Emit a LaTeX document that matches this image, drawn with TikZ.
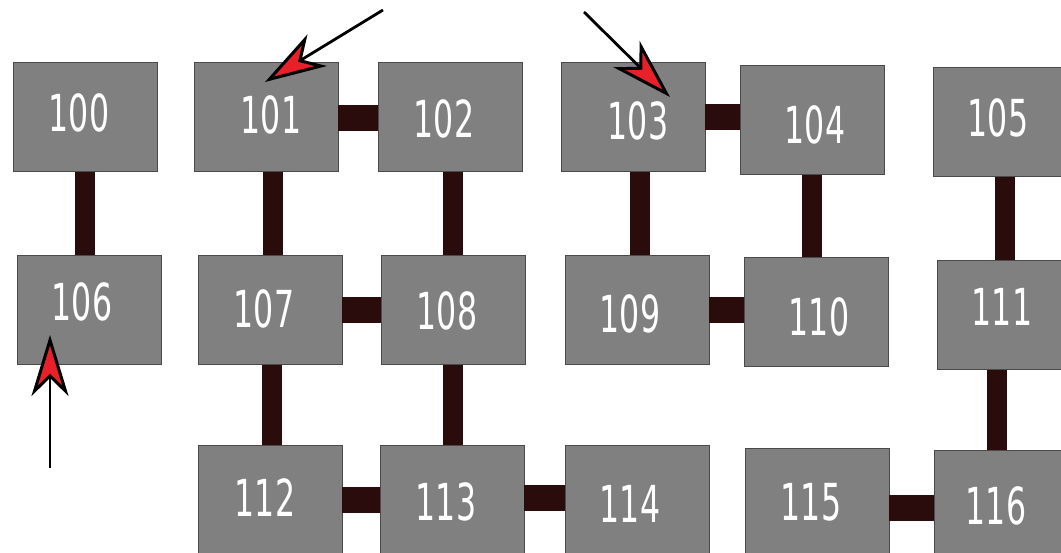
\documentclass[tikz,border=0pt]{standalone}
\usepackage{fontspec}
\newfontfamily\boxfont{DejaVu Sans}[FakeStretch=0.62]
\usetikzlibrary{arrows.meta}
\definecolor{boxgray}{HTML}{808080}
\definecolor{boxedge}{HTML}{4A4A4A}
\definecolor{linkbrown}{HTML}{2B0C0C}
\definecolor{tipred}{HTML}{E8202A}
\begin{document}
\begin{tikzpicture}[x=1pt,y=-1pt,
  cell/.style={draw=boxedge, line width=0.8pt, fill=boxgray,
    minimum width=144pt, minimum height=109pt, inner sep=0pt},
  tag/.style={inner sep=0pt, text=white,
    font=\boxfont\fontsize{51}{51}\selectfont},
  vlink/.style={draw=linkbrown, line width=20pt},
  hlink/.style={draw=linkbrown, line width=26pt},
  pointer/.style={draw=black, line width=2.8pt,
    -{Stealth[length=61pt,width=37pt,inset=18pt,fill=tipred,line width=3pt]}}]
\useasboundingbox (0,0) rectangle (1061,553);
\clip (0,0) rectangle (1061,553);

% grid of cells
\node[cell] (n100) at (85,117)   {};
\node[cell] (n101) at (266,117)  {};
\node[cell] (n102) at (450,117)  {};
\node[cell] (n103) at (633,117)  {};
\node[cell] (n104) at (812,120)  {};
\node[cell] (n105) at (1005,122) {};
\node[cell] (n106) at (89,310)   {};
\node[cell] (n107) at (270,310)  {};
\node[cell] (n108) at (453,310)  {};
\node[cell] (n109) at (637,310)  {};
\node[cell] (n110) at (816,312)  {};
\node[cell] (n111) at (1009,315) {};
\node[cell] (n112) at (270,500)  {};
\node[cell] (n113) at (452,500)  {};
\node[cell] (n114) at (637,500)  {};
\node[cell] (n115) at (817,503)  {};
\node[cell] (n116) at (1006,505) {};

% cell numbers
\node[tag] (l100) at ([shift={(-6,-4)}]n100.center) {100};
\node[tag] (l101) at ([shift={(5,-2)}]n101.center)  {101};
\node[tag] (l102) at ([shift={(-6,2)}]n102.center)  {102};
\node[tag] (l103) at ([shift={(5,4)}]n103.center)   {103};
\node[tag] (l104) at ([shift={(3,5)}]n104.center)   {104};
\node[tag] (l105) at ([shift={(-7,-4)}]n105.center) {105};
\node[tag] (l106) at ([shift={(-7,-8)}]n106.center) {106};
\node[tag] (l107) at ([shift={(-6,-1)}]n107.center) {107};
\node[tag] (l108) at ([shift={(-6,1)}]n108.center)  {108};
\node[tag] (l109) at ([shift={(-7,4)}]n109.center)  {109};
\node[tag] (l110) at ([shift={(3,5)}]n110.center)   {110};
\node[tag] (l111) at ([shift={(-7,-8)}]n111.center) {111};
\node[tag] (l112) at ([shift={(-5,-2)}]n112.center) {112};
\node[tag] (l113) at ([shift={(-6,2)}]n113.center)  {113};
\node[tag] (l114) at ([shift={(-7,4)}]n114.center)  {114};
\node[tag] (l115) at ([shift={(-6,-1)}]n115.center) {115};
\node[tag] (l116) at ([shift={(-10,1)}]n116.center) {116};

% vertical links
\draw[vlink] (n100.south) -- (n100.south |- n106.north);
\draw[vlink] ([xshift=7pt]n101.south) -- ([xshift=7pt]n101.south |- n107.north);
\draw[vlink] ([xshift=3pt]n102.south) -- ([xshift=3pt]n102.south |- n108.north);
\draw[vlink] ([xshift=7pt]n103.south) -- ([xshift=7pt]n103.south |- n109.north);
\draw[vlink] (n104.south) -- (n104.south |- n110.north);
\draw[vlink] (n105.south) -- (n105.south |- n111.north);
\draw[vlink] ([xshift=2pt]n107.south) -- ([xshift=2pt]n107.south |- n112.north);
\draw[vlink] (n108.south) -- (n108.south |- n113.north);
\draw[vlink] ([xshift=-12pt]n111.south) -- ([xshift=-12pt]n111.south |- n116.north);

% horizontal links
\draw[hlink] ([yshift=-1pt]n101.east) -- ([yshift=-1pt]n101.east -| n102.west);
\draw[hlink] (n103.east) -- (n103.east -| n104.west);
\draw[hlink] (n107.east) -- (n107.east -| n108.west);
\draw[hlink] (n109.east) -- (n109.east -| n110.west);
\draw[hlink] (n112.east) -- (n112.east -| n113.west);
\draw[hlink] ([yshift=2pt]n113.east) -- ([yshift=2pt]n113.east -| n114.west);
\draw[hlink] ([yshift=-5pt]n115.east) -- ([yshift=-5pt]n115.east -| n116.west);

% entry pointers
\coordinate (s1) at (383,10);
\coordinate (t1) at (265,82);
\coordinate (s2) at (584,12);
\coordinate (t2) at (670,97);
\coordinate (s3) at (50,468);
\coordinate (t3) at (50,335);
\draw[pointer] (s1) -- (t1);
\draw[pointer] (s2) -- (t2);
\draw[pointer] (s3) -- (t3);
\end{tikzpicture}
\end{document}
